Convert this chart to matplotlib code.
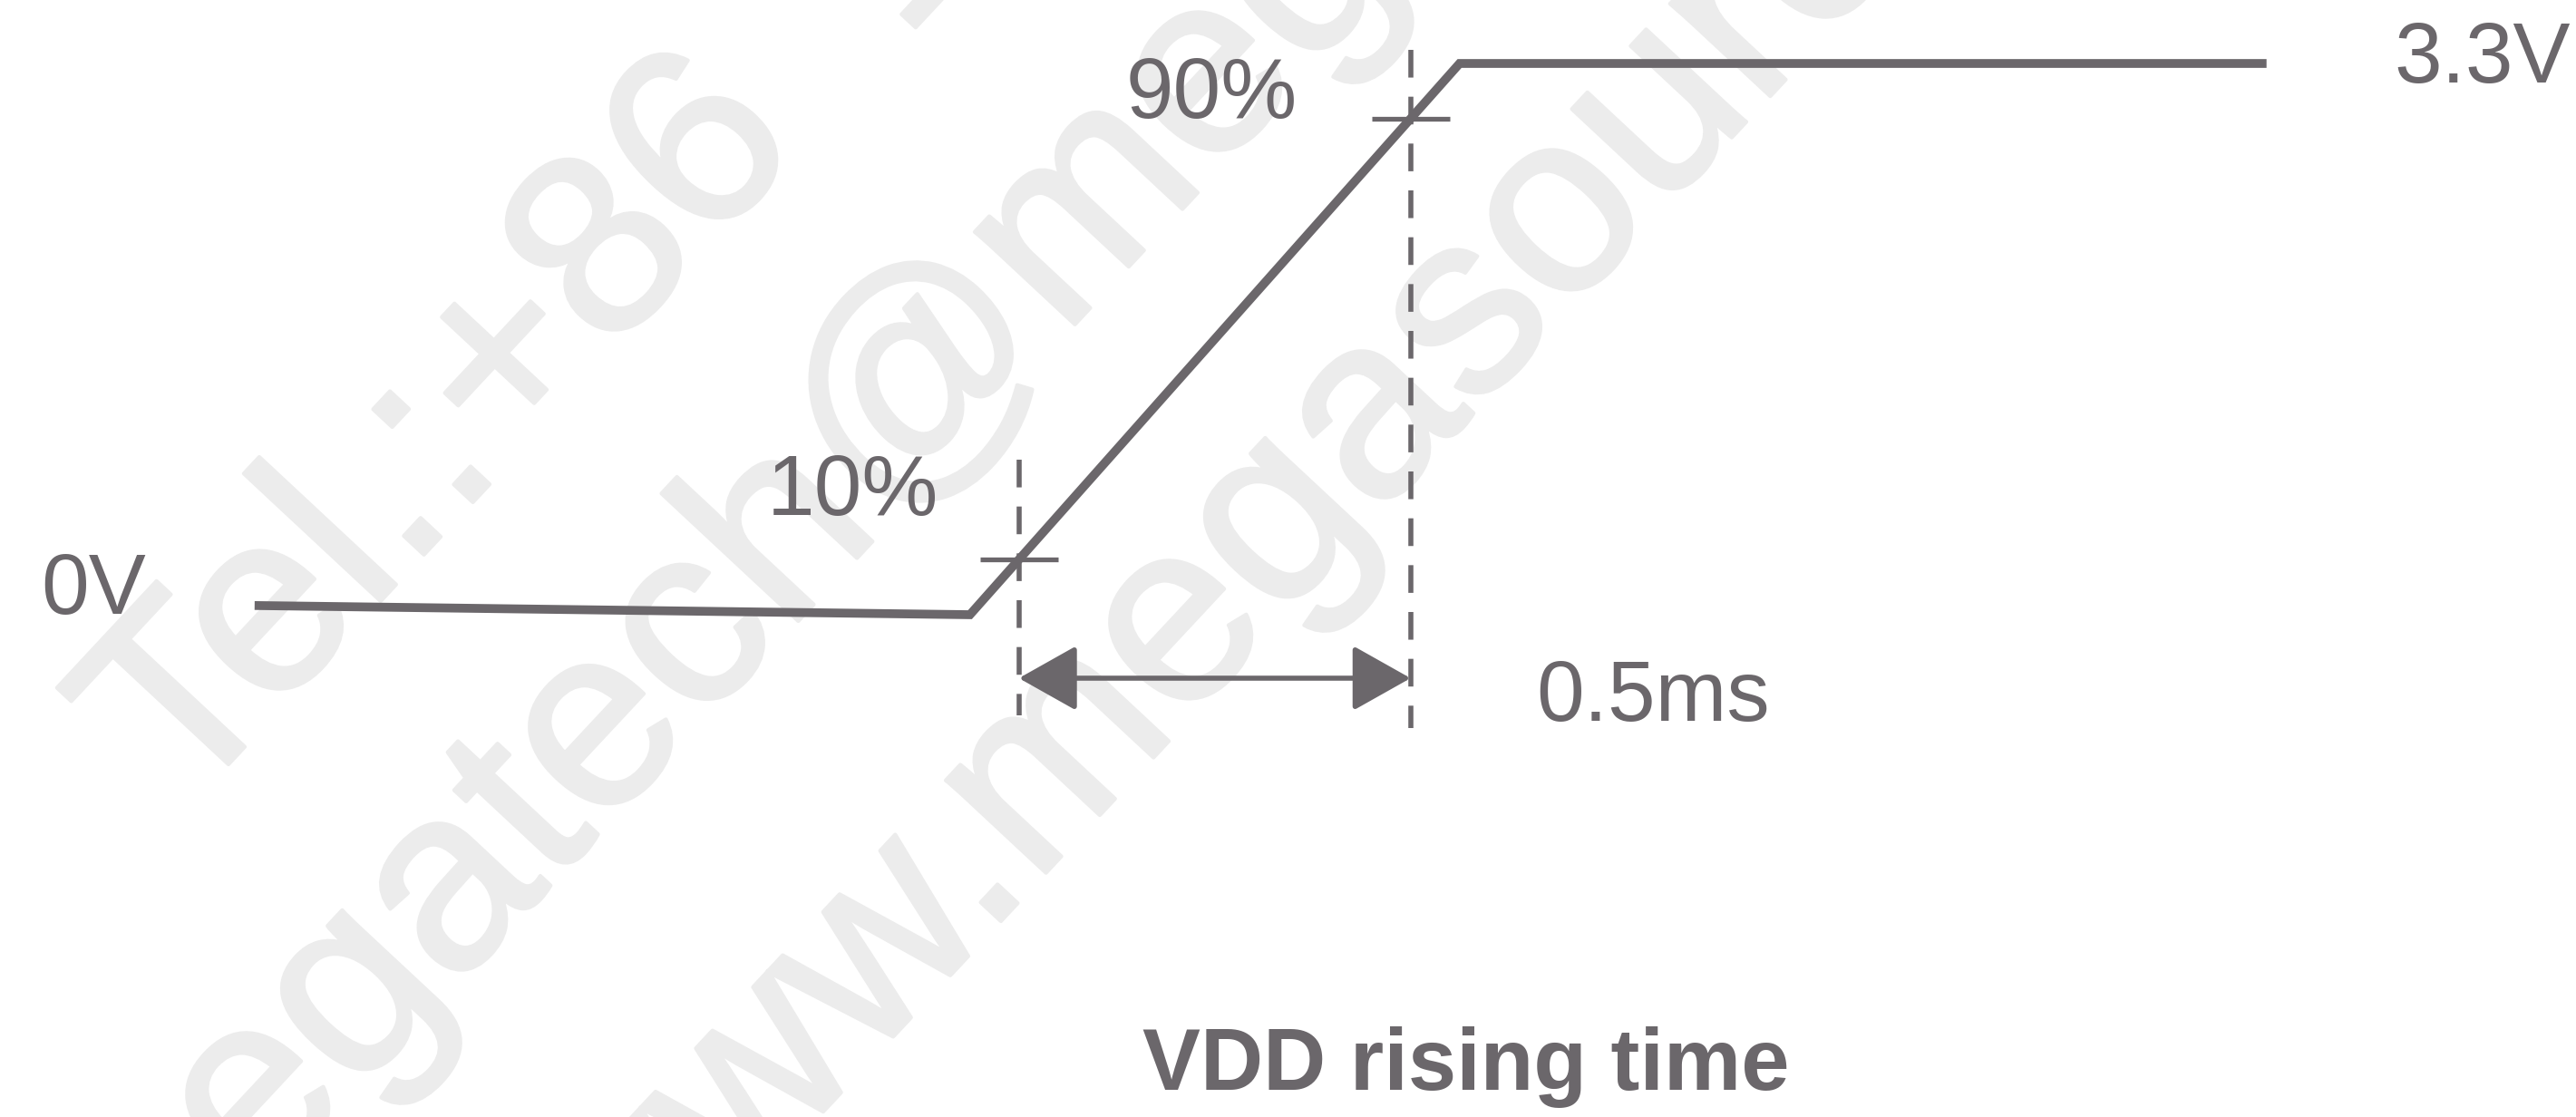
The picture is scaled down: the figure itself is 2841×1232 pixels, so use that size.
import numpy as np
import matplotlib.pyplot as plt
import matplotlib.patheffects as pe

plt.rcParams['font.family'] = ['Liberation Sans', 'DejaVu Sans']

# waveform (time in ms, voltage in V)
t_wave = [-0.913, 0.0, 0.625, 1.655]
v_wave = [0.055, 0.0, 3.3, 3.3]
v_top = 3.3
rise_label = '0.5ms'
pct_lo, pct_hi = 0.1, 0.9
watermark = ['Tel.:+86  13', 'megatech@megasource', 'www.megasource.com']

grey = '#6b676b'
wm = '#ececec'

fig = plt.figure(figsize=(28.41, 12.32), dpi=100)
ax = fig.add_axes([0, 0, 1, 1])
ax.set_xlim(-1.238, 2.050)
ax.set_ylim(-3.007, 3.680)
ax.axis('off')

# watermark, behind everything
wm_pos = [(0.071, 0.272), (0.043, -0.216), (0.238, -0.197)]
for s, (fx, fy) in zip(watermark, wm_pos):
    ax.text(fx, fy, s, transform=fig.transFigure, fontsize=205, color=wm,
            rotation=47, rotation_mode='anchor', ha='left', va='baseline',
            zorder=0, clip_on=False,
            path_effects=[pe.withStroke(linewidth=3, foreground=wm)])

ax.plot(t_wave, v_wave, color=grey, lw=7, solid_joinstyle='miter',
        solid_capstyle='butt', zorder=3)

# 10% / 90% crossing points
t_ramp = t_wave[1:3]
v_ramp = v_wave[1:3]
t10 = np.interp(pct_lo * v_top, v_ramp, t_ramp)
t90 = np.interp(pct_hi * v_top, v_ramp, t_ramp)

ax.plot([t10, t10], [0.93, -0.60], color=grey, lw=4, ls=(0, (5.5, 3.8)), zorder=2)
ax.plot([t90, t90], [3.38, -0.68], color=grey, lw=4, ls=(0, (5.5, 3.8)), zorder=2)
ax.plot([t10, t90], [pct_lo * v_top, pct_hi * v_top], ls='none', marker='_',
        markersize=62, markeredgewidth=3.8, color=grey, zorder=3)

ax.annotate('', xy=(t90, -0.38), xytext=(t10, -0.38),
            arrowprops=dict(arrowstyle='<|-|>,head_length=0.8,head_width=0.45',
                            mutation_scale=50, color=grey, lw=4,
                            shrinkA=0, shrinkB=0), zorder=3)

fs = 68
ax.text(-1.186, 0.14, '0V', fontsize=fs, color=grey, ha='left', va='center', zorder=4)
ax.text(2.043, 3.32, '3.3V', fontsize=fs, color=grey, ha='right', va='center', zorder=4)
ax.text(0.308, 3.11, '90%', fontsize=fs, color=grey, ha='center', va='center', zorder=4)
ax.text(-0.150, 0.73, '10%', fontsize=fs, color=grey, ha='center', va='center', zorder=4)
ax.text(0.872, -0.50, rise_label, fontsize=fs, color=grey, ha='center', va='center', zorder=4)
ax.text(0.633, -2.71, 'VDD rising time', fontsize=69, color=grey,
        fontweight='bold', ha='center', va='center', zorder=4)

fig.savefig('out.png', dpi=100)
